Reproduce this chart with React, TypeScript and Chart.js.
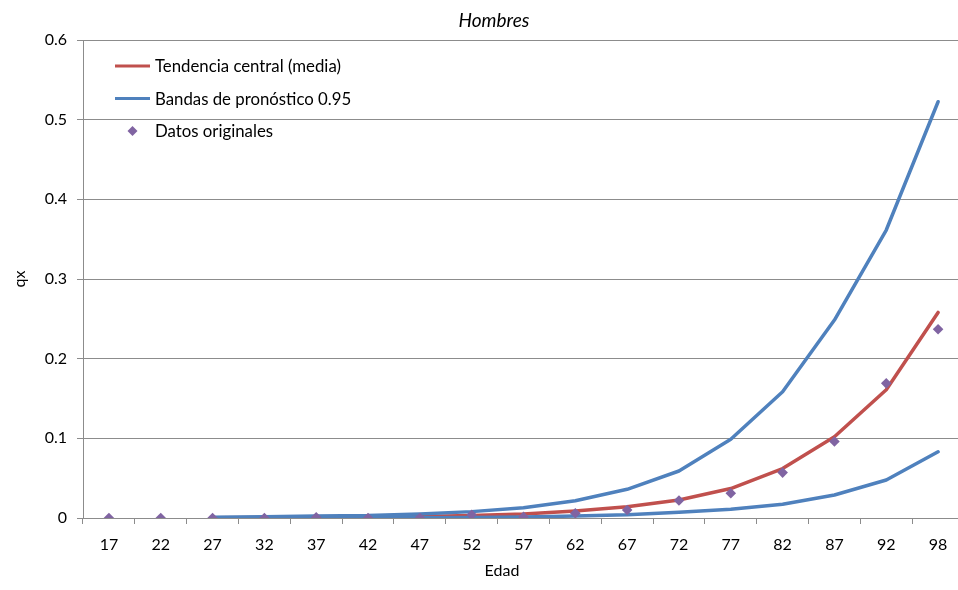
import React, { useEffect, useRef } from "react";
import { Chart, registerables } from "chart.js";

Chart.register(...registerables);

// Edades (categorías del eje X)
const edades = ["17", "22", "27", "32", "37", "42", "47", "52", "57", "62", "67", "72", "77", "82", "87", "92", "98"];

// Tendencia central (media) de qx
const tendenciaCentral = [null, null, 0.0004, 0.0006, 0.0009, 0.0013, 0.002, 0.003, 0.005, 0.0088, 0.014, 0.0226, 0.037, 0.062, 0.102, 0.161, 0.258];

// Bandas de pronóstico al 95 %
const bandaSuperior = [null, null, 0.001, 0.0015, 0.0025, 0.003, 0.005, 0.008, 0.013, 0.0217, 0.036, 0.059, 0.0988, 0.1585, 0.2485, 0.3615, 0.5225];
const bandaInferior = [null, null, 0.0001, 0.0001, 0.0002, 0.0003, 0.0004, 0.0007, 0.0013, 0.0025, 0.0041, 0.0072, 0.011, 0.0172, 0.0289, 0.0477, 0.0832];

// Datos originales observados
const datosOriginales = [0, 0, 0, 0, 0.001, 0, 0, 0.004, 0.0016, 0.006, 0.01, 0.022, 0.031, 0.057, 0.096, 0.169, 0.237];

// Marcas del eje Y
const marcasY = [0, 0.1, 0.2, 0.3, 0.4, 0.5, 0.6];

const TITULO = "Hombres";
const TITULO_X = "Edad";
const TITULO_Y = "qx";

const ROJO = "#C0504D";
const AZUL = "#4F81BD";
const MORADO = "#8064A2";
const GRIS = "#8c8c8c";
const FUENTE = "Lato, 'Open Sans', sans-serif";

// Leyenda dibujada dentro del área del gráfico, en la esquina superior izquierda
const leyendaInterior = {
  id: "leyendaInterior",
  afterDatasetsDraw(chart: any) {
    const { ctx, chartArea } = chart;
    const items = chart.data.datasets.filter((d: any) => !d.sinLeyenda);
    ctx.save();
    ctx.font = `16.8px ${FUENTE}`;
    ctx.textBaseline = "middle";
    ctx.textAlign = "left";
    items.forEach((d: any, i: number) => {
      const y = chartArea.top + 26 + i * 32.5;
      const x0 = chartArea.left + 32;
      if (d.showLine === false) {
        const cx = x0 + 17.5;
        const r = 5;
        ctx.fillStyle = d.backgroundColor;
        ctx.beginPath();
        ctx.moveTo(cx, y - r);
        ctx.lineTo(cx + r, y);
        ctx.lineTo(cx, y + r);
        ctx.lineTo(cx - r, y);
        ctx.closePath();
        ctx.fill();
      } else {
        ctx.strokeStyle = d.borderColor;
        ctx.lineWidth = 3;
        ctx.beginPath();
        ctx.moveTo(x0, y);
        ctx.lineTo(x0 + 35, y);
        ctx.stroke();
      }
      ctx.fillStyle = "#000";
      ctx.fillText(d.label, chartArea.left + 72, y + 1);
    });
    ctx.restore();
  },
};

// Título del gráfico y título del eje X
const titulos = {
  id: "titulos",
  afterDraw(chart: any) {
    const { ctx, chartArea } = chart;
    ctx.save();
    ctx.fillStyle = "#000";
    ctx.textAlign = "center";
    ctx.textBaseline = "middle";
    ctx.font = `italic 19px ${FUENTE}`;
    ctx.fillText(TITULO, chart.width / 2 + 1, 21);
    ctx.font = `16px ${FUENTE}`;
    ctx.fillText(TITULO_X, chart.width / 2 + 9, chartArea.bottom + 53);
    ctx.restore();
  },
};

export default function App() {
  const canvasRef = useRef<HTMLCanvasElement | null>(null);

  useEffect(() => {
    if (!canvasRef.current) return;
    const linea = (color: string) => ({
      borderColor: color,
      backgroundColor: color,
      borderWidth: 3.5,
      pointRadius: 0,
      borderJoinStyle: "round",
      borderCapStyle: "round",
    });
    const chart = new Chart(canvasRef.current, {
      type: "line",
      data: {
        labels: edades,
        datasets: [
          { label: "Tendencia central (media)", data: tendenciaCentral, ...linea(ROJO), order: 2 },
          { label: "Bandas de pronóstico 0.95", data: bandaSuperior, ...linea(AZUL), order: 1 },
          { label: "Bandas de pronóstico 0.95", sinLeyenda: true, data: bandaInferior, ...linea(AZUL), order: 1 },
          {
            label: "Datos originales",
            data: datosOriginales,
            showLine: false,
            pointStyle: "rectRot",
            pointRadius: 5.3,
            pointBorderWidth: 0,
            backgroundColor: MORADO,
            borderColor: MORADO,
            order: 0,
          },
        ] as any,
      },
      options: {
        responsive: false,
        animation: false,
        layout: { padding: { left: 0, right: 22, top: 40, bottom: 0 } },
        plugins: {
          legend: { display: false },
          tooltip: { enabled: false },
          title: { display: false },
        },
        scales: {
          x: {
            type: "category",
            offset: true,
            grid: {
              offset: true,
              drawOnChartArea: false,
              drawTicks: true,
              tickLength: 6,
              color: GRIS,
            },
            border: { color: GRIS, width: 1 },
            ticks: {
              color: "#000",
              font: { family: FUENTE, size: 16 },
              padding: 11,
              maxRotation: 0,
              autoSkip: false,
            },
            afterFit(scale: any) {
              scale.height = 72;
            },
          },
          y: {
            min: 0,
            max: 0.6,
            afterBuildTicks(scale: any) {
              scale.ticks = marcasY.map((v) => ({ value: v }));
            },
            grid: { color: GRIS, tickLength: 6, drawTicks: true },
            border: { color: GRIS, width: 1 },
            ticks: {
              color: "#000",
              font: { family: FUENTE, size: 16 },
              padding: 10,
              callback: (v: any) => String(Number(Number(v).toFixed(1))),
            },
            title: {
              display: true,
              text: TITULO_Y,
              color: "#000",
              font: { family: FUENTE, size: 16 },
              padding: { top: 10, bottom: 0 },
            },
            afterFit(scale: any) {
              scale.width = 83;
            },
          },
        },
      },
      plugins: [leyendaInterior, titulos],
    } as any);
    return () => chart.destroy();
  }, []);

  return (
    <div
      style={{
        position: "fixed",
        left: 0,
        top: 0,
        width: 958,
        height: 590,
        overflow: "hidden",
        background: "#fff",
      }}
    >
      <canvas ref={canvasRef} width={986} height={590} style={{ width: 986, height: 590, display: "block" }} />
    </div>
  );
}
